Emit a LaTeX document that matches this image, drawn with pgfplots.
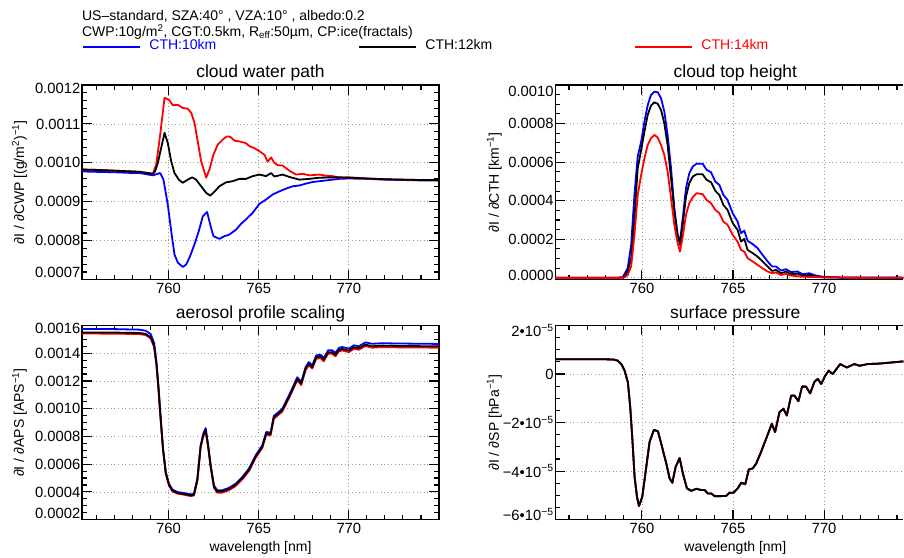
\documentclass[border=0pt]{standalone}
\usepackage{fontspec}
\setmainfont{Liberation Sans}
\usepackage{pgfplots}
\usepackage{pgfplotstable}
\pgfplotsset{compat=1.18}
\newcommand{\hfont}{\fontsize{14}{16}\selectfont}
\newcommand{\tfont}{\fontsize{17.5}{20}\selectfont}
\newcommand{\kfont}{\fontsize{14.8}{17}\selectfont}
\newcommand{\lfont}{\fontsize{14}{16}\selectfont}
\newcommand{\lift}[2]{\raisebox{#1}[\height][\depth]{#2}}

% ---- cloud water path ----
\pgfplotstableread{
x y
755.2 9.78e-4
756 9.77e-4
757 9.76e-4
758 9.74e-4
758.4 9.74e-4
759.13 9.68e-4
759.54 9.74e-4
759.72 9.57e-4
759.96 8.93e-4
760.15 8.25e-4
760.33 7.65e-4
760.52 7.44e-4
760.79 7.33e-4
760.98 7.39e-4
761.20 7.61e-4
761.44 7.91e-4
761.68 8.25e-4
761.90 8.63e-4
762.14 8.74e-4
762.31 8.42e-4
762.49 8.12e-4
762.82 8.05e-4
763.10 8.12e-4
763.38 8.16e-4
763.75 8.29e-4
764.03 8.44e-4
764.30 8.55e-4
764.67 8.72e-4
765.04 8.95e-4
765.41 9.06e-4
765.78 9.19e-4
766.15 9.27e-4
766.52 9.34e-4
766.89 9.40e-4
767.26 9.42e-4
767.63 9.47e-4
768.00 9.51e-4
768.37 9.53e-4
768.74 9.55e-4
769.10 9.57e-4
769.47 9.59e-4
770 9.60e-4
771 9.59e-4
772 9.57e-4
773 9.56e-4
774 9.55e-4
775 9.55e-4
}\cwpA
\pgfplotstableread{
x y
755.2 9.83e-4
756 9.82e-4
757 9.80e-4
758 9.78e-4
758.4 9.77e-4
759.13 9.72e-4
759.25 9.78e-4
759.41 10.0e-4
759.59 10.38e-4
759.78 10.77e-4
759.96 10.51e-4
760.15 10.04e-4
760.33 9.74e-4
760.57 9.57e-4
760.79 9.49e-4
761.07 9.57e-4
761.31 9.63e-4
761.53 9.57e-4
761.81 9.40e-4
762.09 9.23e-4
762.31 9.16e-4
762.55 9.26e-4
762.82 9.40e-4
763.19 9.50e-4
763.56 9.53e-4
763.93 9.59e-4
764.30 9.59e-4
764.67 9.66e-4
765.04 9.70e-4
765.41 9.66e-4
765.69 9.74e-4
765.87 9.65e-4
766.33 9.70e-4
766.70 9.64e-4
767.26 9.57e-4
767.81 9.59e-4
768.37 9.62e-4
769.47 9.63e-4
770 9.62e-4
771 9.60e-4
772 9.58e-4
773 9.57e-4
774 9.56e-4
775 9.56e-4
}\cwpB
\pgfplotstableread{
x y
755.2 9.83e-4
756 9.82e-4
757 9.80e-4
758 9.78e-4
758.4 9.77e-4
759.13 9.72e-4
759.32 9.96e-4
759.54 10.73e-4
759.78 11.67e-4
760.02 11.62e-4
760.24 11.48e-4
760.52 11.49e-4
760.79 11.41e-4
761.07 11.39e-4
761.26 11.28e-4
761.44 11.03e-4
761.62 10.55e-4
761.81 10.04e-4
762.09 9.62e-4
762.27 9.83e-4
762.49 10.21e-4
762.73 10.47e-4
763.01 10.60e-4
763.23 10.68e-4
763.42 10.67e-4
763.66 10.57e-4
763.93 10.55e-4
764.27 10.51e-4
764.49 10.43e-4
764.76 10.38e-4
765.04 10.30e-4
765.32 10.21e-4
765.50 10.03e-4
765.69 10.14e-4
765.87 10.00e-4
766.06 9.94e-4
766.33 9.93e-4
766.70 9.80e-4
767.07 9.70e-4
767.44 9.72e-4
767.81 9.68e-4
768.37 9.70e-4
768.74 9.67e-4
769.10 9.66e-4
769.47 9.62e-4
770 9.63e-4
771 9.60e-4
772 9.58e-4
773 9.57e-4
774 9.56e-4
775 9.55e-4
}\cwpC

% ---- cloud top height ----
\pgfplotstableread{
x y
755.25 0.01e-4
758.7 0.01e-4
758.95 0.04e-4
759.22 0.50e-4
759.41 1.71e-4
759.59 4.30e-4
759.77 6.29e-4
759.96 7.06e-4
760.14 8.10e-4
760.32 8.96e-4
760.50 9.48e-4
760.69 9.65e-4
760.87 9.62e-4
761.05 9.31e-4
761.23 8.62e-4
761.41 7.41e-4
761.60 5.68e-4
761.78 3.61e-4
761.96 2.22e-4
762.09 1.88e-4
762.24 3.09e-4
762.42 4.65e-4
762.60 5.42e-4
762.79 5.77e-4
763.00 5.92e-4
763.33 5.92e-4
763.55 5.60e-4
763.79 5.48e-4
764.03 4.99e-4
764.25 4.82e-4
764.47 4.30e-4
764.70 4.04e-4
764.98 3.35e-4
765.25 2.92e-4
765.44 2.32e-4
765.62 2.45e-4
765.80 1.92e-4
766.08 1.75e-4
766.35 1.54e-4
766.62 1.19e-4
766.90 0.85e-4
767.14 0.59e-4
767.36 0.59e-4
767.63 0.38e-4
767.91 0.45e-4
768.18 0.30e-4
768.54 0.33e-4
768.82 0.19e-4
769.18 0.24e-4
769.55 0.12e-4
770 0.05e-4
771 0.02e-4
775 0.01e-4
}\cthA
\pgfplotstableread{
x y
755.25 0.005e-4
758.7 0.005e-4
759.0 0.03e-4
759.22 0.33e-4
759.41 1.02e-4
759.59 3.09e-4
759.77 5.68e-4
759.96 6.63e-4
760.14 7.58e-4
760.32 8.45e-4
760.50 8.93e-4
760.69 9.10e-4
760.87 9.02e-4
761.05 8.70e-4
761.23 8.01e-4
761.41 6.89e-4
761.60 5.16e-4
761.78 3.44e-4
761.96 2.23e-4
762.09 1.71e-4
762.24 2.75e-4
762.42 4.21e-4
762.60 4.91e-4
762.79 5.25e-4
763.00 5.37e-4
763.33 5.37e-4
763.55 5.08e-4
763.79 4.96e-4
764.03 4.51e-4
764.25 4.30e-4
764.47 3.78e-4
764.70 3.52e-4
764.98 2.84e-4
765.25 2.49e-4
765.44 1.88e-4
765.62 2.02e-4
765.80 1.45e-4
766.08 1.28e-4
766.35 1.10e-4
766.62 0.85e-4
766.90 0.59e-4
767.14 0.36e-4
767.36 0.41e-4
767.63 0.24e-4
767.91 0.33e-4
768.18 0.19e-4
768.54 0.22e-4
768.82 0.12e-4
769.18 0.15e-4
769.55 0.06e-4
770 0.03e-4
771 0.01e-4
775 0.005e-4
}\cthB
\pgfplotstableread{
x y
755.25 0.0
758.8 0.0
759.05 0.03e-4
759.22 0.15e-4
759.41 0.59e-4
759.59 2.23e-4
759.77 4.30e-4
759.96 5.34e-4
760.14 6.20e-4
760.32 6.89e-4
760.50 7.24e-4
760.69 7.41e-4
760.87 7.27e-4
761.05 6.89e-4
761.23 6.37e-4
761.41 5.51e-4
761.60 4.13e-4
761.78 2.75e-4
761.96 1.80e-4
762.09 1.36e-4
762.24 2.14e-4
762.42 3.26e-4
762.60 3.87e-4
762.79 4.18e-4
763.00 4.39e-4
763.33 4.34e-4
763.55 4.04e-4
763.79 3.87e-4
764.03 3.52e-4
764.25 3.35e-4
764.47 2.92e-4
764.70 2.75e-4
764.98 2.23e-4
765.25 1.88e-4
765.44 1.45e-4
765.62 1.36e-4
765.80 1.02e-4
766.08 0.85e-4
766.35 0.67e-4
766.62 0.50e-4
766.90 0.33e-4
767.14 0.24e-4
767.36 0.28e-4
767.63 0.15e-4
767.91 0.21e-4
768.18 0.12e-4
768.82 0.06e-4
769.55 0.04e-4
770 0.02e-4
775 0.0
}\cthC

% ---- aerosol profile scaling ----
\pgfplotstableread{
x y
755.2 15.75e-4
757 15.74e-4
758.37 15.70e-4
758.74 15.62e-4
759.01 15.38e-4
759.20 14.75e-4
759.33 13.40e-4
759.44 11.68e-4
759.57 9.28e-4
759.70 7.12e-4
759.85 5.43e-4
760.03 4.58e-4
760.21 4.18e-4
760.49 3.99e-4
760.86 3.92e-4
761.23 3.82e-4
761.41 3.87e-4
761.60 4.95e-4
761.78 7.35e-4
761.93 8.20e-4
762.06 8.60e-4
762.19 7.48e-4
762.34 5.92e-4
762.52 4.47e-4
762.70 4.12e-4
762.98 4.12e-4
763.35 4.29e-4
763.72 4.59e-4
764.09 5.07e-4
764.46 5.68e-4
764.83 6.63e-4
765.20 7.35e-4
765.42 8.32e-4
765.66 8.27e-4
765.84 9.47e-4
766.31 9.99e-4
766.68 10.95e-4
767.14 12.27e-4
767.36 11.92e-4
767.60 12.99e-4
767.78 13.36e-4
767.97 13.12e-4
768.19 13.84e-4
768.43 13.89e-4
768.61 13.66e-4
768.85 14.21e-4
769.07 14.21e-4
769.26 14.03e-4
769.45 14.38e-4
769.63 14.45e-4
770.00 14.33e-4
770.28 14.57e-4
770.55 14.50e-4
770.92 14.78e-4
771.29 14.68e-4
771.84 14.72e-4
772.77 14.70e-4
775.0 14.67e-4
}\apsA
\pgfplotstableread{
x y
755.2 15.50e-4
757 15.49e-4
758.37 15.46e-4
758.74 15.39e-4
759.01 15.15e-4
759.20 14.55e-4
759.33 13.24e-4
759.44 11.56e-4
759.57 9.18e-4
759.70 7.03e-4
759.85 5.35e-4
760.03 4.51e-4
760.21 4.11e-4
760.49 3.92e-4
760.86 3.85e-4
761.23 3.75e-4
761.41 3.80e-4
761.60 4.87e-4
761.78 7.26e-4
761.93 8.10e-4
762.06 8.46e-4
762.19 7.38e-4
762.34 5.83e-4
762.52 4.39e-4
762.70 4.04e-4
762.98 4.04e-4
763.35 4.21e-4
763.72 4.51e-4
764.09 4.99e-4
764.46 5.59e-4
764.83 6.54e-4
765.20 7.26e-4
765.42 8.22e-4
765.66 8.17e-4
765.84 9.37e-4
766.31 9.89e-4
766.68 10.85e-4
767.14 12.16e-4
767.36 11.81e-4
767.60 12.88e-4
767.78 13.24e-4
767.97 13.00e-4
768.19 13.71e-4
768.43 13.76e-4
768.61 13.53e-4
768.85 14.07e-4
769.07 14.07e-4
769.26 13.89e-4
769.45 14.24e-4
769.63 14.31e-4
770.00 14.19e-4
770.28 14.43e-4
770.55 14.36e-4
770.92 14.62e-4
771.29 14.50e-4
771.84 14.55e-4
772.77 14.52e-4
775.0 14.50e-4
}\apsB
\pgfplotstableread{
x y
755.2 15.42e-4
757 15.41e-4
758.37 15.38e-4
758.74 15.31e-4
759.01 15.07e-4
759.20 14.45e-4
759.33 13.12e-4
759.44 11.45e-4
759.57 9.08e-4
759.70 6.95e-4
759.85 5.28e-4
760.03 4.44e-4
760.21 4.05e-4
760.49 3.88e-4
760.86 3.80e-4
761.23 3.70e-4
761.41 3.74e-4
761.60 4.80e-4
761.78 7.18e-4
761.93 8.02e-4
762.06 8.36e-4
762.19 7.30e-4
762.34 5.75e-4
762.52 4.30e-4
762.70 3.95e-4
762.98 3.95e-4
763.35 4.12e-4
763.72 4.42e-4
764.09 4.90e-4
764.46 5.50e-4
764.83 6.45e-4
765.20 7.17e-4
765.42 8.12e-4
765.66 8.07e-4
765.84 9.27e-4
766.31 9.79e-4
766.68 10.75e-4
767.14 12.05e-4
767.36 11.70e-4
767.60 12.77e-4
767.78 13.13e-4
767.97 12.89e-4
768.19 13.60e-4
768.43 13.65e-4
768.61 13.42e-4
768.85 13.96e-4
769.07 13.96e-4
769.26 13.78e-4
769.45 14.13e-4
769.63 14.20e-4
770.00 14.08e-4
770.28 14.32e-4
770.55 14.25e-4
770.92 14.52e-4
771.29 14.40e-4
771.84 14.44e-4
772.77 14.42e-4
775.0 14.40e-4
}\apsC

% ---- surface pressure (the three runs coincide) ----
\pgfplotstableread{
x y
755.25 0.61e-5
757.68 0.61e-5
758.41 0.60e-5
758.68 0.55e-5
758.87 0.41e-5
759.05 0.14e-5
759.23 -0.34e-5
759.36 -1.37e-5
759.47 -2.60e-5
759.60 -4.24e-5
759.73 -5.06e-5
759.84 -5.44e-5
760.02 -5.06e-5
760.24 -3.83e-5
760.42 -2.80e-5
760.66 -2.30e-5
760.88 -2.36e-5
761.06 -2.87e-5
761.34 -3.69e-5
761.52 -4.30e-5
761.67 -4.48e-5
761.85 -3.83e-5
762.07 -3.46e-5
762.25 -4.10e-5
762.47 -4.71e-5
762.71 -4.81e-5
762.98 -4.73e-5
763.26 -4.78e-5
763.44 -4.78e-5
763.62 -4.92e-5
763.80 -4.92e-5
763.99 -5.03e-5
764.35 -5.03e-5
764.63 -5.02e-5
764.81 -4.89e-5
765.03 -4.89e-5
765.26 -4.71e-5
765.45 -4.48e-5
765.67 -4.54e-5
765.87 -3.93e-5
766.08 -3.89e-5
766.27 -3.69e-5
766.54 -3.21e-5
766.82 -2.66e-5
767.13 -2.05e-5
767.31 -2.39e-5
767.55 -1.57e-5
767.77 -1.43e-5
767.95 -1.71e-5
768.19 -0.89e-5
768.37 -0.89e-5
768.59 -1.12e-5
768.79 -0.52e-5
769.01 -0.52e-5
769.23 -0.80e-5
769.47 -0.32e-5
769.65 -0.20e-5
769.84 -0.41e-5
770.06 -0.07e-5
770.25 0.14e-5
770.47 0.00
770.88 0.41e-5
771.24 0.27e-5
771.66 0.41e-5
771.94 0.34e-5
772.39 0.41e-5
773.03 0.43e-5
773.76 0.48e-5
774.35 0.52e-5
775.0 0.53e-5
}\spA

\pgfplotsset{
 panel/.style={
  scale only axis, anchor=south west,
  axis line style={line width=1.2pt},
  tick style={black, line width=1.1pt},
  major tick length=10pt, minor tick length=5pt,
  tick align=inside, tick pos=both,
  xtick={760,765,770}, xticklabels={760,765,770},
  minor xtick={756,757,...,775},
  grid=major,
  major grid style={dash pattern=on 1pt off 2.6pt, black!40, line width=0.8pt},
  scaled x ticks=false, scaled y ticks=false,
  every axis title/.style={at={(axis description cs:0.5,1)}, anchor=base, yshift=7pt, font=\tfont},
  tick label style={font=\kfont},
  yticklabel style={inner xsep=1.5pt},
  ylabel style={at={(axis description cs:-0.175,0.5)}, anchor=center, font=\lfont},
  xlabel style={at={(axis description cs:0.5,0)}, anchor=base, yshift=-32pt, font=\lfont},
  every axis plot/.append style={line width=1.8pt, line join=round},
 },
 rightpanel/.style={axis y line*=left, axis x line*=box},
}

\begin{document}
\begin{tikzpicture}[x=1pt,y=1pt]
\path (0,0) rectangle (904,555);
\node[anchor=base west, inner sep=0pt, font=\hfont] at (82,534.3) {US–standard, SZA:40° , VZA:10° , albedo:0.2};
\node[anchor=base west, inner sep=0pt, font=\hfont] at (82,518.3) {CWP:10g/m\textsuperscript{2}, CGT:0.5km, R\textsubscript{eff}:50µm, CP:ice(fractals)};

% cloud water path
\begin{axis}[panel, at={(82pt,275pt)}, width=357.3pt, height=195pt,
  xmin=755.2, xmax=775, ymin=0.0007, ymax=0.0012,
  ytick={0.0007,0.0008,0.0009,0.0010,0.0011,0.0012},
  yticklabels={\lift{7pt}{0.0007},0.0008,0.0009,0.0010,0.0011,\lift{-3pt}{0.0012}},
  minor y tick num=4,
  title={cloud water path},
  ylabel={∂I / ∂CWP [(g/m\textsuperscript{2})\textsuperscript{−1}]},
  legend columns=3,
  legend style={at={(axis description cs:0,1)}, anchor=south west, yshift=33.3pt,
    draw=none, fill=none, inner sep=0pt, font=\hfont,
    nodes={inner sep=0pt},
    /tikz/every odd column/.append style={column sep=8.5pt},
    /tikz/every even column/.append style={column sep=142pt}},
  legend cell align=left,
  legend image code/.code={\draw[#1, line width=1.8pt] (0pt,-1pt) -- (57pt,-1pt);},
]
\addplot[blue, forget plot] table {\cwpA};
\addplot[red, forget plot] table {\cwpC};
\addplot[black, forget plot] table {\cwpB};
\addlegendimage{blue}
\addlegendentry{\textcolor{blue}{CTH:10km}}
\addlegendimage{black}
\addlegendentry{CTH:12km}
\addlegendimage{red}
\addlegendentry{\textcolor{red}{CTH:14km}}
\end{axis}

% cloud top height
\begin{axis}[panel, rightpanel, at={(555.7pt,275pt)}, width=348.3pt, height=195pt,
  xmin=755.25, xmax=774.35, ymin=-0.00001, ymax=0.001,
  ytick={0,0.0002,0.0004,0.0006,0.0008,0.0010},
  yticklabels={\lift{2pt}{0.0000},0.0002,0.0004,0.0006,0.0008,\lift{-6pt}{0.0010}},
  minor y tick num=3,
  title={cloud top height},
  title style={xshift=6pt},
  ylabel={∂I / ∂CTH [km\textsuperscript{−1}]},
]
\addplot[blue] table {\cthA};
\addplot[black] table {\cthB};
\addplot[red] table {\cthC};
\end{axis}

% aerosol profile scaling
\begin{axis}[panel, at={(82pt,35pt)}, width=357.3pt, height=194.3pt,
  xmin=755.2, xmax=775, ymin=0.0002, ymax=0.0016,
  ytick={0.0002,0.0004,0.0006,0.0008,0.0010,0.0012,0.0014,0.0016},
  yticklabels={\lift{6pt}{0.0002},0.0004,0.0006,0.0008,0.0010,0.0012,0.0014,\lift{-3pt}{0.0016}},
  minor y tick num=3,
  title={aerosol profile scaling},
  xlabel={wavelength [nm]},
  ylabel={∂I / ∂APS [APS\textsuperscript{−1}]},
]
\addplot[blue] table {\apsA};
\addplot[red] table {\apsC};
\addplot[black] table {\apsB};
\end{axis}

% surface pressure
\begin{axis}[panel, rightpanel, at={(555.7pt,35pt)}, width=348.3pt, height=194.3pt,
  xmin=755.25, xmax=774.35, ymin=-6e-5, ymax=2e-5,
  ytick={-6e-5,-4e-5,-2e-5,0,2e-5},
  yticklabels={\lift{5pt}{−6•10\textsuperscript{−5}},−4•10\textsuperscript{−5},−2•10\textsuperscript{−5},0,\lift{-5pt}{2•10\textsuperscript{−5}}},
  minor y tick num=3,
  title={surface pressure},
  title style={xshift=6pt},
  xlabel={wavelength [nm]},
  xlabel style={xshift=6pt},
  ylabel={∂I / ∂SP [hPa\textsuperscript{−1}]},
]
\addplot[blue] table {\spA};
\addplot[red] table {\spA};
\addplot[black] table {\spA};
\end{axis}
\end{tikzpicture}
\end{document}
